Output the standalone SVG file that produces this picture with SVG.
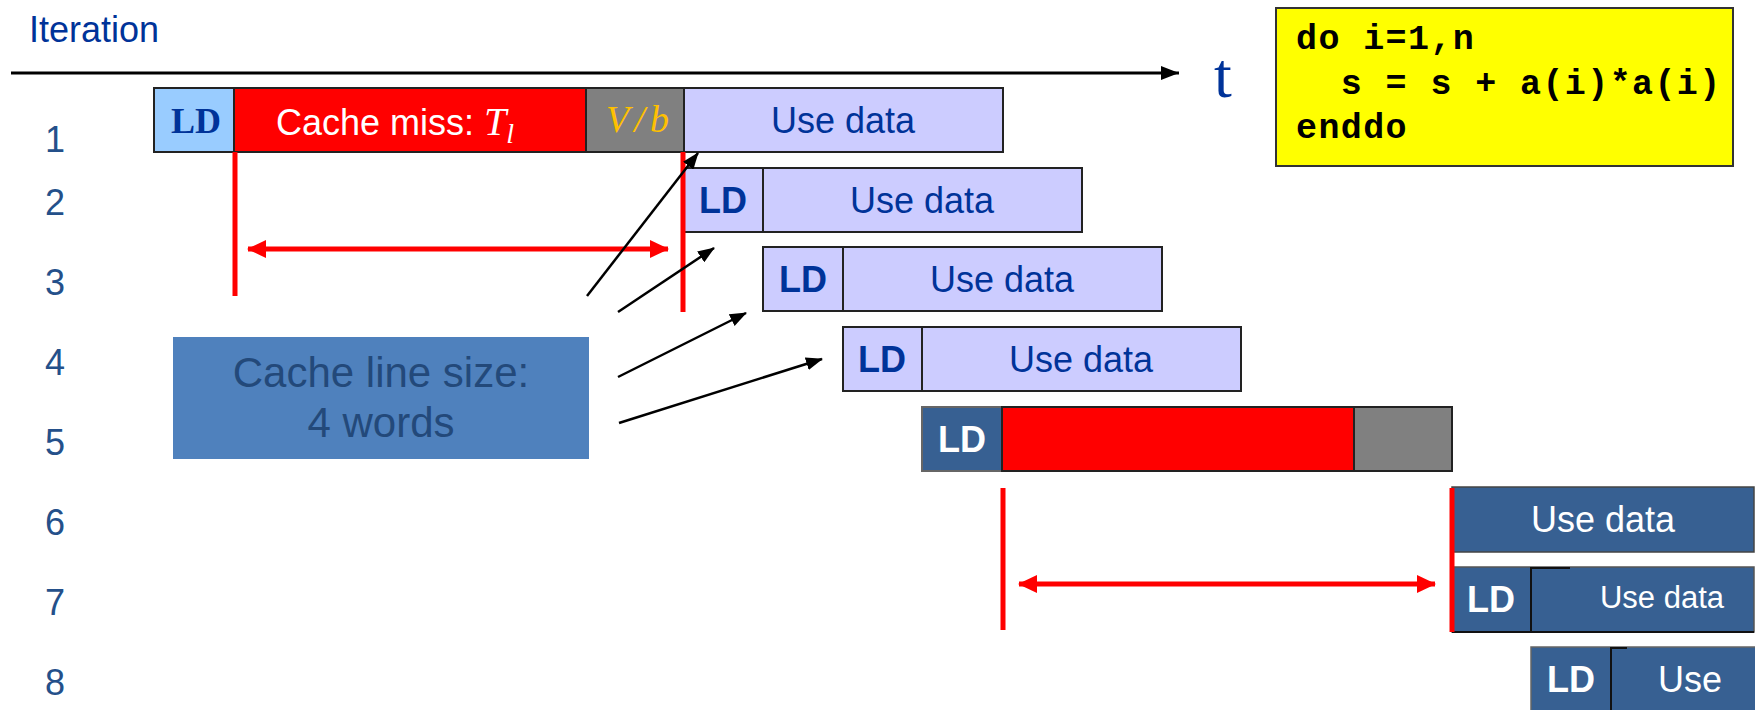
<svg xmlns="http://www.w3.org/2000/svg" width="1755" height="710" viewBox="0 0 1755 710">
<style>
text{font-family:"Liberation Sans",Arial,sans-serif}
text.serif,tspan.serif{font-family:"Liberation Serif","Times New Roman",serif}
.num{font-size:36px;fill:#24508a;text-anchor:middle}
.ld{stroke:#222;stroke-width:2}
.lt{fill:#ccccff}
.dk{fill:#376092}
.red{fill:#ff0000}
.gry{fill:#808080}
.tb{font-size:36px;fill:#003399;text-anchor:middle}
.tw{font-size:36px;fill:#ffffff;text-anchor:middle}
.bold{font-weight:bold}
text.code{font-family:"Liberation Mono","Courier New",monospace;font-weight:bold;font-size:35px;letter-spacing:1.4px;fill:#000;white-space:pre}
.rl{stroke:#ff0000;stroke-width:5;fill:none}
.bl{stroke:#000;stroke-width:2.5;fill:none}
</style>
<defs>
<marker id="ah" markerUnits="userSpaceOnUse" markerWidth="18" markerHeight="14" refX="18" refY="7" orient="auto"><path d="M0,0 L18,7 L0,14 z" fill="#000"/></marker>
<marker id="bh" markerUnits="userSpaceOnUse" markerWidth="17" markerHeight="13" refX="16" refY="6.5" orient="auto"><path d="M0,0 L17,6.5 L0,13 z" fill="#000"/></marker>
<marker id="rh" markerUnits="userSpaceOnUse" markerWidth="19" markerHeight="18" refX="18" refY="9" orient="auto-start-reverse"><path d="M0,0 L19,9 L0,18 z" fill="#ff0000"/></marker>
</defs>
<rect width="1755" height="710" fill="#fff"/>

<g id="header">
<text x="29" y="42" font-size="36" fill="#003399">Iteration</text>
<text class="serif" x="1223" y="97" font-size="64" fill="#003399" text-anchor="middle">t</text>
</g>

<g id="code">
<rect x="1276" y="8" width="457" height="158" fill="#ffff00" stroke="#333" stroke-width="2"/>
<text class="code" x="1296" y="49">do i=1,n</text>
<text class="code" x="1296" y="94">  s = s + a(i)*a(i)</text>
<text class="code" x="1296" y="138">enddo</text>
</g>

<g id="rownums">
<text class="num" x="55" y="152">1</text>
<text class="num" x="55" y="215">2</text>
<text class="num" x="55" y="295">3</text>
<text class="num" x="55" y="375">4</text>
<text class="num" x="55" y="455">5</text>
<text class="num" x="55" y="535">6</text>
<text class="num" x="55" y="615">7</text>
<text class="num" x="55" y="695">8</text>
</g>

<g id="row1">
<rect x="154" y="88" width="80" height="64" fill="#99ccff" class="ld"/>
<rect x="234" y="88" width="352" height="64" class="red ld"/>
<rect x="586" y="88" width="98" height="64" class="gry ld"/>
<rect x="684" y="88" width="319" height="64" class="lt ld"/>
<text class="serif" x="196" y="133" font-weight="bold" font-size="36" fill="#003399" text-anchor="middle">LD</text>
<text x="276" y="135" font-size="36" fill="#fff">Cache miss: <tspan class="serif" font-style="italic" font-size="40">T</tspan><tspan class="serif" font-style="italic" font-size="28" dy="8">l</tspan></text>
<text class="serif" x="640" y="132" font-style="italic" font-size="38" fill="#ffc000" text-anchor="middle" letter-spacing="5">V/b</text>
<text class="tb" x="843" y="133">Use data</text>
</g>

<g id="row2">
<rect x="684" y="168" width="79" height="64" class="lt ld"/>
<rect x="763" y="168" width="319" height="64" class="lt ld"/>
<text class="tb bold" x="723" y="213">LD</text>
<text class="tb" x="922" y="213">Use data</text>
</g>

<g id="row3">
<rect x="763" y="247" width="80" height="64" class="lt ld"/>
<rect x="843" y="247" width="319" height="64" class="lt ld"/>
<text class="tb bold" x="803" y="292">LD</text>
<text class="tb" x="1002" y="292">Use data</text>
</g>

<g id="row4">
<rect x="843" y="327" width="79" height="64" class="lt ld"/>
<rect x="922" y="327" width="319" height="64" class="lt ld"/>
<text class="tb bold" x="882" y="372">LD</text>
<text class="tb" x="1081" y="372">Use data</text>
</g>

<g id="row5">
<rect x="922" y="407" width="80" height="64" class="dk" stroke="#666" stroke-width="2"/>
<rect x="1002" y="407" width="352" height="64" class="red ld"/>
<rect x="1354" y="407" width="98" height="64" class="gry ld"/>
<text class="tw bold" x="962" y="452">LD</text>
</g>

<g id="row6">
<rect x="1452" y="487" width="302" height="65" class="dk" stroke="#444" stroke-width="1.5"/>
<text class="tw" x="1603" y="532">Use data</text>
</g>

<g id="row7">
<rect x="1452" y="567" width="302" height="65" class="dk" stroke="#555" stroke-width="1.5"/>
<path d="M1531,632 V568 H1570 M1452,632 H1754" stroke="#111" stroke-width="2" fill="none"/>
<text class="tw bold" x="1491" y="612">LD</text>
<text class="tw" x="1662" y="608" style="font-size:31px">Use data</text>
</g>

<g id="row8">
<rect x="1531" y="647" width="230" height="70" class="dk" stroke="#666" stroke-width="1.5"/>
<path d="M1611,712 V648 H1627" stroke="#111" stroke-width="2" fill="none"/>
<text class="tw bold" x="1571" y="692">LD</text>
<text class="tw" x="1690" y="692">Use</text>
</g>

<g id="cacheline">
<rect x="173" y="337" width="416" height="122" fill="#4f81bd"/>
<text x="381" y="387" font-size="42" fill="#23497a" text-anchor="middle">Cache line size:</text>
<text x="381" y="437" font-size="42" fill="#23497a" text-anchor="middle">4 words</text>
</g>

<g id="connectors">
<line x1="11" y1="73" x2="1179" y2="73" stroke="#000" stroke-width="3" marker-end="url(#ah)"/>
<line class="rl" x1="235" y1="152" x2="235" y2="296"/>
<line class="rl" x1="683" y1="152" x2="683" y2="312"/>
<line class="rl" x1="248" y1="249" x2="668" y2="249" marker-start="url(#rh)" marker-end="url(#rh)"/>
<line class="rl" x1="1003" y1="488" x2="1003" y2="630"/>
<line class="rl" x1="1452" y1="488" x2="1452" y2="632"/>
<line class="rl" x1="1019" y1="584" x2="1435" y2="584" marker-start="url(#rh)" marker-end="url(#rh)"/>
<line class="bl" x1="587" y1="296" x2="698" y2="153" marker-end="url(#bh)"/>
<line class="bl" x1="618" y1="312" x2="714" y2="248" marker-end="url(#bh)"/>
<line class="bl" x1="618" y1="377" x2="746" y2="313" marker-end="url(#bh)"/>
<line class="bl" x1="619" y1="423" x2="822" y2="359" marker-end="url(#bh)"/>
</g>
</svg>
